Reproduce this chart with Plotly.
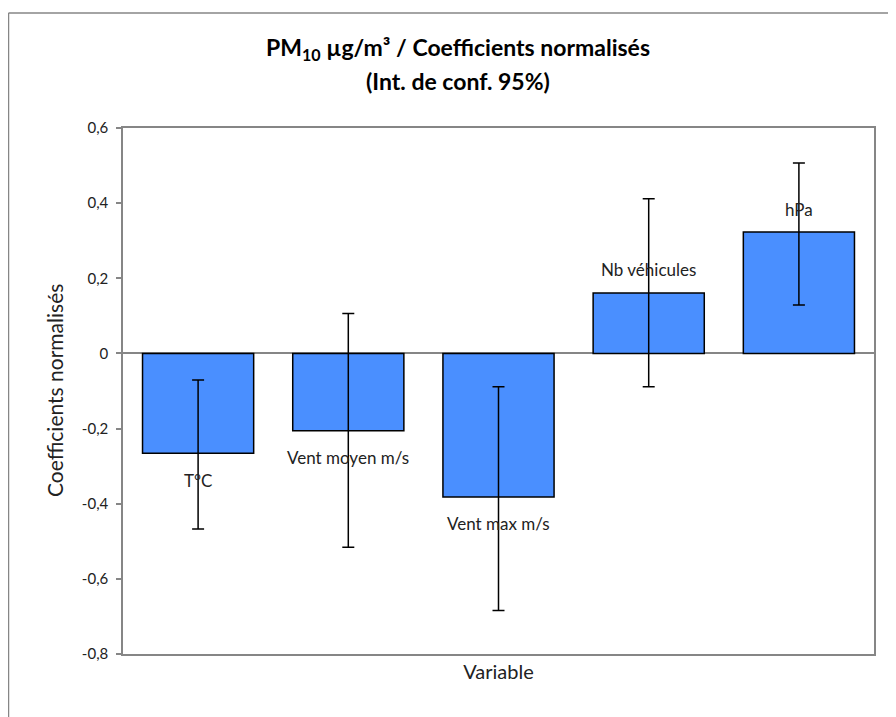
import plotly.graph_objects as go

# Données
variables = ["T°C", "Vent moyen m/s", "Vent max m/s", "Nb véhicules", "hPa"]
coefficients = [-0.266, -0.206, -0.382, 0.161, 0.323]
err_haut = [0.195, 0.312, 0.293, 0.251, 0.184]
err_bas = [0.201, 0.310, 0.302, 0.250, 0.194]

y_ticks = [0.6, 0.4, 0.2, 0, -0.2, -0.4, -0.6, -0.8]
y_tick_labels = ["0,6", "0,4", "0,2", "0", "-0,2", "-0,4", "-0,6", "-0,8"]

FONT = "Lato"
GRIS = "#868686"

# la page html ajoute une marge de 8 px : on travaille en coordonnées décalées
W, H = 888, 709
L, T = 115, 120
PW, PH = 751, 526
R, B = W - L - PW, H - T - PH


def px(x):
    return (x - L) / PW


def py(y):
    return (H - B - y) / PH


fig = go.Figure()

fig.add_trace(go.Bar(
    x=variables,
    y=coefficients,
    marker=dict(color="#4a8fff", line=dict(color="black", width=1.5)),
    error_y=dict(type="data", symmetric=False, array=err_haut, arrayminus=err_bas,
                 color="black", thickness=1.5, width=6),
    showlegend=False,
    hoverinfo="x+y",
))

# Étiquettes de données (au-delà de l'extrémité de la barre)
annotations = []
for v, c in zip(variables, coefficients):
    annotations.append(dict(
        x=v, y=c, xref="x", yref="y", text=v, showarrow=False,
        yanchor="middle", yshift=-27 if c < 0 else 23,
        font=dict(family=FONT, size=17, color="#222"),
    ))

annotations.append(dict(
    x=px(450), y=py(73), xref="paper", yref="paper", text="<b>(Int. de conf. 95%)</b>",
    showarrow=False, yanchor="middle", font=dict(family=FONT, size=23, color="black"),
))
annotations.append(dict(
    x=px(46), y=0.5, xref="paper", yref="paper", text="Coefficients normalisés",
    textangle=-90, showarrow=False, xanchor="center", yanchor="middle",
    font=dict(family=FONT, size=21, color="#222"),
))

# cadre de la zone de graphique (coupé à droite et en bas)
cadre = [
    dict(type="line", xref="paper", yref="paper", x0=px(0.5), x1=px(0.5),
         y0=py(H), y1=py(5), line=dict(color=GRIS, width=1.5), layer="below"),
    dict(type="line", xref="paper", yref="paper", x0=px(0.5), x1=px(W),
         y0=py(5), y1=py(5), line=dict(color=GRIS, width=1.5), layer="below"),
]

fig.update_layout(
    title=dict(text="<b>PM<sub>10</sub> µg/m³ / Coefficients normalisés</b>",
               x=450 / W, xanchor="center", y=1 - 40 / H, yanchor="middle",
               yref="container", font=dict(family=FONT, size=23, color="black")),
    width=W, height=H,
    margin=dict(l=L, r=R, t=T, b=B),
    plot_bgcolor="white", paper_bgcolor="white",
    bargap=0.26,
    font=dict(family=FONT, color="#222"),
    xaxis=dict(showticklabels=False, ticks="", showgrid=False,
               showline=True, linecolor=GRIS, linewidth=1.5, mirror=True,
               title=dict(text="Variable", font=dict(family=FONT, size=20, color="#222"),
                          standoff=10)),
    yaxis=dict(range=[-0.8, 0.6], tickvals=y_ticks, ticktext=y_tick_labels,
               ticks="outside", ticklen=5, tickcolor=GRIS, tickwidth=1.5,
               ticklabelstandoff=5,
               tickfont=dict(family=FONT, size=15, color="#222"),
               showgrid=False, zeroline=True, zerolinecolor=GRIS, zerolinewidth=1.5,
               showline=True, linecolor=GRIS, linewidth=1.5, mirror=True),
    shapes=cadre,
    annotations=annotations,
)

fig.write_html("out.html")
